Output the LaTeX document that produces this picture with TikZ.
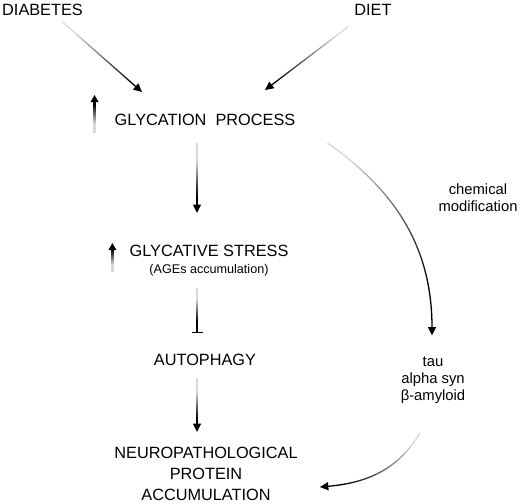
\documentclass[tikz,border=0pt]{standalone}
\usepackage{fontspec}
\setmainfont{Liberation Sans}
\usetikzlibrary{arrows.meta,calc,fadings}

\tikzfading[name=fadestart, top color=transparent!85, middle color=transparent!0, bottom color=transparent!0]
\tikzfading[name=fadeup, bottom color=transparent!85, middle color=transparent!0, top color=transparent!0]

\tikzset{
	maintext/.style={inner sep=0pt, align=center, font=\fontsize{16.3}{21}\selectfont},
	sidetext/.style={inner sep=0pt, align=center, font=\fontsize{14.8}{17}\selectfont},
	notetext/.style={inner sep=0pt, font=\fontsize{12.6}{15}\selectfont},
	flow/.style={line width=1.3pt, -{Triangle[length=8.5pt,width=8pt]}},
	block/.style={line width=1.3pt, -{Bar[width=11pt,line width=1.3pt]}},
	rise/.style={line width=2.3pt, -{Triangle[length=7pt,width=7.5pt]}},
	fade/.style={path fading=fadestart, fading angle=#1},
	vfade/.style n args={3}{path fading=#1, fit fading=false, fading transform={shift={(#2)}, yscale=#3}}
}

\begin{document}
\begin{tikzpicture}[x=1pt,y=-1pt]
		\useasboundingbox ( 0, 0 ) rectangle ( 526, 503 );

		% причины
		\node [maintext, anchor=west] (diabetes) at ( 2, 10 ) {DIABETES};
		\node [maintext] (diet) at ( 373, 10 ) {DIET};

		% основная цепочка
		\node [maintext] (glyc) at ( 205, 120 ) {GLYCATION\ \ PROCESS};
		\node [maintext] (stress) at ( 209, 251 ) {GLYCATIVE STRESS};
		\node [notetext] (ages) at ( 209, 270 ) {(AGEs accumulation)};
		\node [maintext] (autophagy) at ( 205, 360 ) {AUTOPHAGY};
		\node [maintext] (neuro) at ( 206, 474 ) {NEUROPATHOLOGICAL\\PROTEIN\\ACCUMULATION};

		% боковая ветка
		\node [sidetext] (chem) at ( 478, 198 ) {chemical\\modification};
		\node [sidetext] (proteins) at ( 433, 380 ) {tau\\alpha syn\\β-amyloid};

		% стрелки роста
		\draw [rise, vfade={fadeup}{96,114}{0.38}] ($ (glyc.west) + ( -20, 13 ) $) -- ($ (glyc.west) + ( -20, -25 ) $);
		\draw [rise, vfade={fadeup}{113,257}{0.3}] ($ (stress.west) + ( -17, 21 ) $) -- ($ (stress.west) + ( -17, -8 ) $);

		% связи
		\draw [flow, fade=40] ($ (diabetes.south) + ( 20, 6 ) $) -- ($ (glyc.north) + ( -63, -22 ) $);
		\draw [flow, fade=-37] ($ (diet.south) + ( -25, 11 ) $) -- ($ (glyc.north) + ( 60, -24 ) $);
		\draw [flow, vfade={fadestart}{197,178}{0.7}] ($ (glyc.south) + ( -8, 17 ) $) -- ($ (stress.north) + ( -12, -32 ) $);
		\draw [block, vfade={fadestart}{197,310}{0.45}] ($ (ages.south) + ( -12, 12 ) $) -- ($ (autophagy.north) + ( -8, -21 ) $);
		\draw [flow, vfade={fadestart}{197,405}{0.54}] ($ (autophagy.south) + ( -8, 12 ) $) -- ($ (neuro.north) + ( -9, -15 ) $);
		\draw [flow, fade=50] ($ (glyc.south east) + ( 32, 17 ) $) to [out=-35, in=90] ($ (proteins.north) + ( -1, -21 ) $);
		\draw [flow, fade=-45] ($ (proteins.south) + ( -13, 29 ) $) to [out=-120, in=5] ($ (neuro.east) + ( 22, 13 ) $);
	\end{tikzpicture}
\end{document}
